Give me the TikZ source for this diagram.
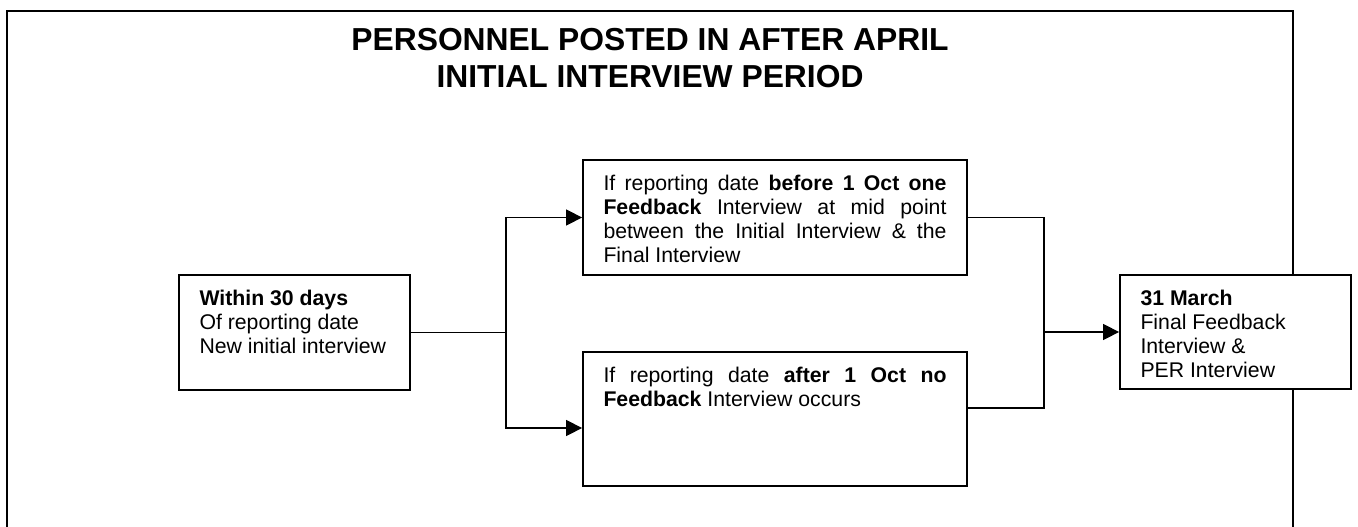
\documentclass[tikz,border=0pt]{standalone}
\usepackage{fontspec}
\setmainfont{Liberation Sans}
\usetikzlibrary{arrows.meta}
\hbadness=10000
\newcommand{\boxtext}[4]{\begin{minipage}[c][#2][t]{#1}\rule{0pt}{#3}#4\end{minipage}}
\tikzset{
  box/.style={draw, line width=1.8pt, fill=white, inner xsep=20.5pt, inner ysep=0pt,
    font=\fontsize{21.25}{24}\selectfont},
  conn/.style={line width=1.4pt},
  arr/.style={line width=1.4pt, -{Triangle[length=16pt,width=16pt]}},
  title/.style={font=\fontsize{31.8}{37}\selectfont\bfseries, anchor=base, inner sep=0pt},
  frame/.style={line width=2pt}
}
\begin{document}
\begin{tikzpicture}[x=1pt,y=-1pt]
\useasboundingbox (0,0) rectangle (1358,527);
\draw[frame] (7,527) -- (7,11) -- (1293,11) -- (1293,527);
\node[title] (t1) at (650,51) {PERSONNEL POSTED IN AFTER APRIL};
\node[title] (t2) at (650,88) {INITIAL INTERVIEW PERIOD};
\node[box] (A) at (294.5,332.5) {\boxtext{190pt}{115pt}{30pt}{\textbf{Within 30 days}\\Of reporting date\\New initial interview}};
\node[box] (B) at (775,217.5) {\boxtext{343pt}{115pt}{30pt}{If reporting date \textbf{before 1 Oct one}\linebreak \textbf{Feedback} Interview at mid point\linebreak between the Initial Interview \& the\linebreak Final Interview}};
\node[box] (C) at (775,419) {\boxtext{343pt}{134pt}{30pt}{If reporting date \textbf{after 1 Oct no}\linebreak \textbf{Feedback} Interview occurs}};
\node[box] (D) at (1235.5,332) {\boxtext{190pt}{114pt}{30pt}{\textbf{31 March}\\Final Feedback\\Interview \&\\PER Interview}};
\coordinate (s) at (506,332.5);
\coordinate (m) at (1044,332);
\draw[conn] (A.east) -- (s);
\draw[arr] (s) |- (B.west);
\draw[arr] (s) |- ([yshift=-9pt]C.west);
\draw[conn] (B.east) -| (m);
\draw[conn] ([yshift=11pt]C.east) -| (m);
\draw[arr] (m) -- (D.west);
\end{tikzpicture}
\end{document}
